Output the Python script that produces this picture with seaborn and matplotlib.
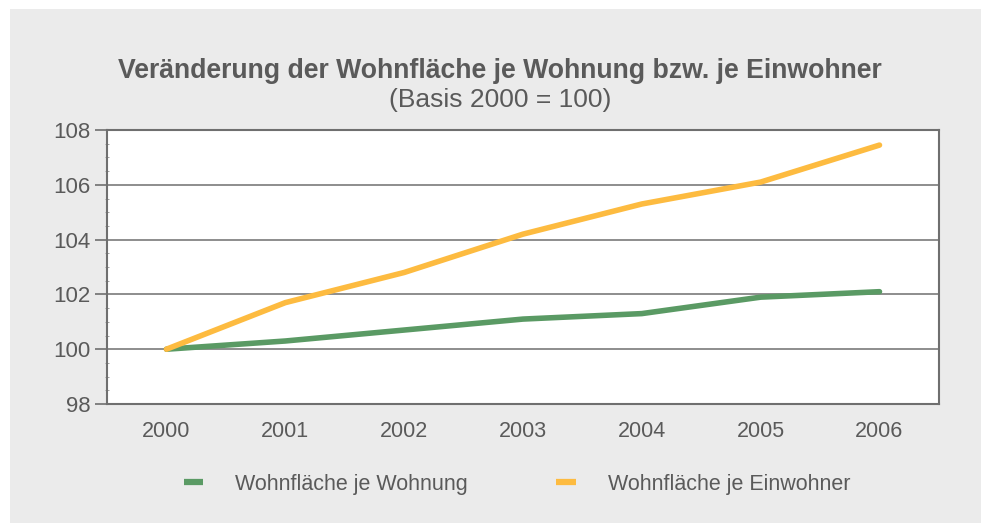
import pandas as pd
import matplotlib
matplotlib.use("Agg")
import matplotlib.pyplot as plt
import seaborn as sns
from matplotlib.ticker import MultipleLocator
from matplotlib.patches import Rectangle

years = ["2000", "2001", "2002", "2003", "2004", "2005", "2006"]
je_wohnung = [100.0, 100.3, 100.7, 101.1, 101.3, 101.9, 102.1]
je_einwohner = [100.0, 101.7, 102.8, 104.2, 105.3, 106.1, 107.45]
series_names = ["Wohnfläche je Wohnung", "Wohnfläche je Einwohner"]

df = pd.DataFrame({
    "Jahr": years * 2,
    "Wert": je_wohnung + je_einwohner,
    "Reihe": [series_names[0]] * 7 + [series_names[1]] * 7,
})

sns.set_style("white")
plt.rcParams["font.family"] = ["Liberation Sans", "DejaVu Sans"]
txt = "#5a5a5a"
bg = "#ebebeb"

fig = plt.figure(figsize=(9.81, 5.23), dpi=100, facecolor="white")
# grey panel, with a thin white margin at top and left
fig.patches.append(Rectangle((10 / 981, 0), 1, 1 - 9 / 523, transform=fig.transFigure,
                             facecolor=bg, edgecolor="none", zorder=-10))

ax = fig.add_axes([0.1091, 0.2275, 0.8480, 0.5239])
ax.set_facecolor("white")

sns.lineplot(data=df, x="Jahr", y="Wert", hue="Reihe", ax=ax,
             palette=["#5a9a64", "#fdbb40"], linewidth=4, sort=False,
             legend=False, zorder=3)

ax.set_xlim(-0.5, 6.5)
ax.set_ylim(98, 108)
ax.yaxis.set_major_locator(MultipleLocator(2))
ax.yaxis.set_minor_locator(MultipleLocator(0.5))
ax.grid(axis="y", color="#7a7a7a", linewidth=1.2, zorder=1)
for s in ax.spines.values():
    s.set_color("#6f6f6f")
    s.set_linewidth(1.5)
ax.tick_params(axis="y", which="major", direction="out", length=9, width=1.2,
               color="#6f6f6f", labelsize=16, labelcolor=txt, pad=3, left=True)
ax.tick_params(axis="y", which="minor", direction="inout", length=3, width=0.7,
               color="#a0a0a0", left=True)
ax.tick_params(axis="x", length=0, labelsize=15.5, labelcolor=txt, pad=12)
ax.set_xlabel("")
ax.set_ylabel("")

fig.text(0.51, 0.865, "Veränderung der Wohnfläche je Wohnung bzw. je Einwohner",
         ha="center", va="center", fontsize=19.2, fontweight="bold", color=txt)
fig.text(0.51, 0.808, "(Basis 2000 = 100)", ha="center", va="center",
         fontsize=19, color=txt)

handles = [plt.Line2D([], [], color=c, linewidth=4.5, solid_capstyle="butt")
           for c in ["#5a9a64", "#fdbb40"]]
fig.legend(handles, series_names, loc="center", bbox_to_anchor=(0.527, 0.074),
           ncol=2, frameon=False, fontsize=15.5, labelcolor=txt,
           handlelength=0.9, handletextpad=1.5, columnspacing=4.1)

fig.savefig("out.png", dpi=100, facecolor="white")
